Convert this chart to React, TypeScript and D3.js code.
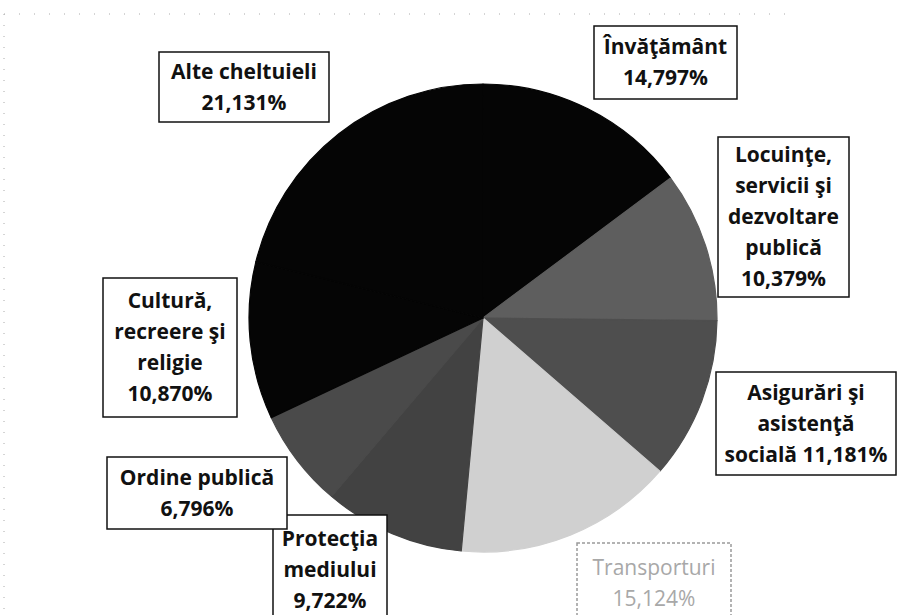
import { useEffect, useRef } from 'react';
import * as d3 from 'd3';

// Date (procente), in ordinea din grafic, pornind de la ora 12 in sensul acelor de ceasornic
const categories = [
  'Învățământ',
  'Locuințe, servicii și dezvoltare publică',
  'Asigurări și asistență socială',
  'Transporturi',
  'Protecția mediului',
  'Ordine publică',
  'Cultură, recreere și religie',
  'Alte cheltuieli',
];
const values = [14.797, 10.379, 11.181, 15.124, 9.722, 6.796, 10.87, 21.131];
const valueLabels = ['14,797%', '10,379%', '11,181%', '15,124%', '9,722%', '6,796%', '10,870%', '21,131%'];

// randurile de text din fiecare eticheta
const labelLines = [
  ['Învăţământ', '14,797%'],
  ['Locuinţe,', 'servicii şi', 'dezvoltare', 'publică', '10,379%'],
  ['Asigurări şi', 'asistenţă', 'socială 11,181%'],
  ['Transporturi', '15,124%'],
  ['Protecţia', 'mediului', '9,722%'],
  ['Ordine publică', '6,796%'],
  ['Cultură,', 'recreere şi', 'religie', '10,870%'],
  ['Alte cheltuieli', '21,131%'],
];

const sliceColors = ['#050505', '#5e5e5e', '#4e4e4e', '#d0d0d0', '#424242', '#4a4a4a', '#050505', '#050505'];

// casetele etichetelor: x, y, latime, inaltime
const labelBoxes = [
  { x: 594, y: 26, w: 143, h: 73 },
  { x: 718, y: 137, w: 131, h: 160 },
  { x: 716, y: 372, w: 180, h: 103 },
  { x: 577, y: 543, w: 154, h: 80 },
  { x: 273, y: 515, w: 114, h: 110 },
  { x: 107, y: 457, w: 180, h: 72 },
  { x: 103, y: 278, w: 134, h: 139 },
  { x: 159, y: 52, w: 170, h: 70 },
];

const App = () => {
  const svgRef = useRef<SVGSVGElement>(null);

  useEffect(() => {
    const width = 897;
    const height = 615;
    const cx = 483;
    const cy = 318;
    const radius = 234;

    const svg = d3.select(svgRef.current);
    svg.selectAll('*').remove();
    svg.attr('width', width).attr('height', height);

    svg.append('rect').attr('width', width).attr('height', height).attr('fill', '#ffffff');

    // chenarul punctat al zonei graficului
    svg.append('line')
      .attr('x1', 4).attr('x2', 790).attr('y1', 14).attr('y2', 14)
      .attr('stroke', '#aaa').attr('stroke-dasharray', '1,14');
    svg.append('line')
      .attr('x1', 4).attr('x2', 4).attr('y1', 14).attr('y2', height)
      .attr('stroke', '#aaa').attr('stroke-dasharray', '1,10');

    const data = categories.map((c, i) => ({ name: c, value: values[i], label: valueLabels[i], idx: i }));

    const pie = d3.pie<any>()
      .sort(null)
      .value(d => d.value)
      .startAngle(0)
      .endAngle(2 * Math.PI);

    const arc = d3.arc<any>().innerRadius(0).outerRadius(radius);

    const g = svg.append('g').attr('transform', `translate(${cx},${cy})`);

    g.selectAll('path.slice')
      .data(pie(data))
      .enter().append('path')
      .attr('class', 'slice')
      .attr('d', arc)
      .attr('fill', d => sliceColors[d.data.idx])
      .attr('stroke', d => sliceColors[d.data.idx])
      .attr('stroke-width', 1.2)
      .attr('stroke-linejoin', 'round');

    // etichete
    const lineH = 31;
    const labels = svg.selectAll('g.label')
      .data(data)
      .enter().append('g')
      .attr('class', 'label');

    labels.append('rect')
      .attr('x', d => labelBoxes[d.idx].x)
      .attr('y', d => labelBoxes[d.idx].y)
      .attr('width', d => labelBoxes[d.idx].w)
      .attr('height', d => labelBoxes[d.idx].h)
      .attr('fill', '#fff')
      .attr('stroke', d => (d.idx === 3 ? '#9a9a9a' : '#111'))
      .attr('stroke-dasharray', d => (d.idx === 3 ? '3,2' : null))
      .attr('stroke-width', 1.5);

    labels.each(function (d) {
      const box = labelBoxes[d.idx];
      const lines = labelLines[d.idx];
      const n = lines.length;
      const midY = box.y + box.h / 2;
      const firstBase = midY - ((n - 1) * lineH) / 2 + 7;
      const t = d3.select(this).append('text')
        .attr('text-anchor', 'middle')
        .style('font-family', '"Open Sans", sans-serif')
        .style('font-weight', d.idx === 3 ? '400' : '700')
        .style('font-size', '21px')
        .style('fill', d.idx === 3 ? '#a8a8a8' : '#111');
      lines.forEach((ln, i) => {
        t.append('tspan')
          .attr('x', box.x + box.w / 2)
          .attr('y', firstBase + i * lineH)
          .text(ln);
      });
    });
  }, []);

  return (
    <svg ref={svgRef} style={{ position: 'absolute', left: 0, top: 0, display: 'block' }}></svg>
  );
};

export default App;
